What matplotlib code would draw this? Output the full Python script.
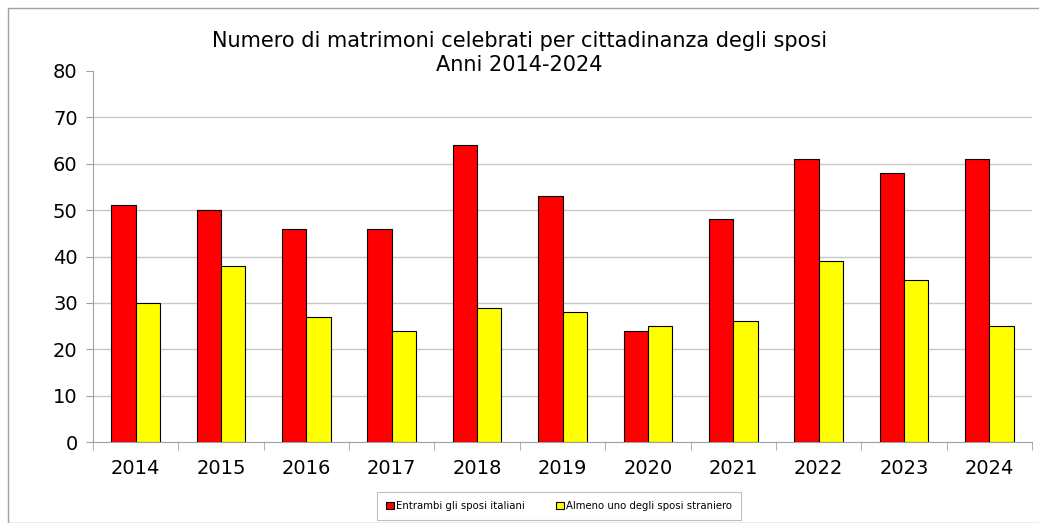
import numpy as np
import matplotlib.pyplot as plt
from matplotlib.patches import Rectangle

# ==== DATI ====
anni = ['2014', '2015', '2016', '2017', '2018', '2019', '2020', '2021', '2022', '2023', '2024']
italiani = [51, 50, 46, 46, 64, 53, 24, 48, 61, 58, 61]
stranieri = [30, 38, 27, 24, 29, 28, 25, 26, 39, 35, 25]

plt.rcParams['font.family'] = ['DejaVu Sans']

fig = plt.figure(figsize=(10.39, 5.23), dpi=100)
ax = fig.add_axes([93/1039, 1 - 442/523, (1032-93)/1039, (442-71)/523])

x = np.arange(len(anni))
w = 0.285
ax.bar(x - w/2, italiani, w, color='#ff0000', edgecolor='black', linewidth=0.8,
       label='Entrambi gli sposi italiani', zorder=3)
ax.bar(x + w/2, stranieri, w, color='#ffff00', edgecolor='black', linewidth=0.8,
       label='Almeno uno degli sposi straniero', zorder=3)

ax.set_xlim(-0.5, len(anni) - 0.5)
ax.set_ylim(0, 80)
ax.set_yticks(range(0, 81, 10))
# griglia orizzontale (senza la linea a 80)
for v in range(10, 80, 10):
    ax.axhline(v, color='#c8c8c8', linewidth=1, zorder=0)
ax.set_xticks(x)
ax.set_xticklabels(anni, fontsize=14)
ax.set_xticks(np.arange(-0.5, len(anni)), minor=True)
ax.tick_params(axis='x', which='major', length=0, pad=12)
ax.tick_params(axis='x', which='minor', length=6, color='#a0a0a0')
ax.tick_params(axis='y', labelsize=14, length=5, color='#a0a0a0', pad=6)

for s in ['top', 'right']:
    ax.spines[s].set_visible(False)
for s in ['left', 'bottom']:
    ax.spines[s].set_color('#a0a0a0')

fig.text(0.5, 1 - 53/523, 'Numero di matrimoni celebrati per cittadinanza degli sposi\nAnni 2014-2024',
         ha='center', va='center', fontsize=15, linespacing=1.25)

leg = fig.legend(loc='center', bbox_to_anchor=(559/1039, 1 - 506/523), ncol=2, fontsize=7.3,
                 frameon=True, fancybox=False, edgecolor='#b0b0b0', handlelength=0.8,
                 handleheight=0.8, handletextpad=0.2, columnspacing=3, borderpad=0.9)
leg.get_frame().set_linewidth(0.8)

# bordo esterno
fig.patches.append(Rectangle((8/1039, 0), 1.2, 1 - 8/523, transform=fig.transFigure,
                             fill=False, edgecolor='#a0a0a0', linewidth=1))

fig.savefig('out.png', dpi=100)
